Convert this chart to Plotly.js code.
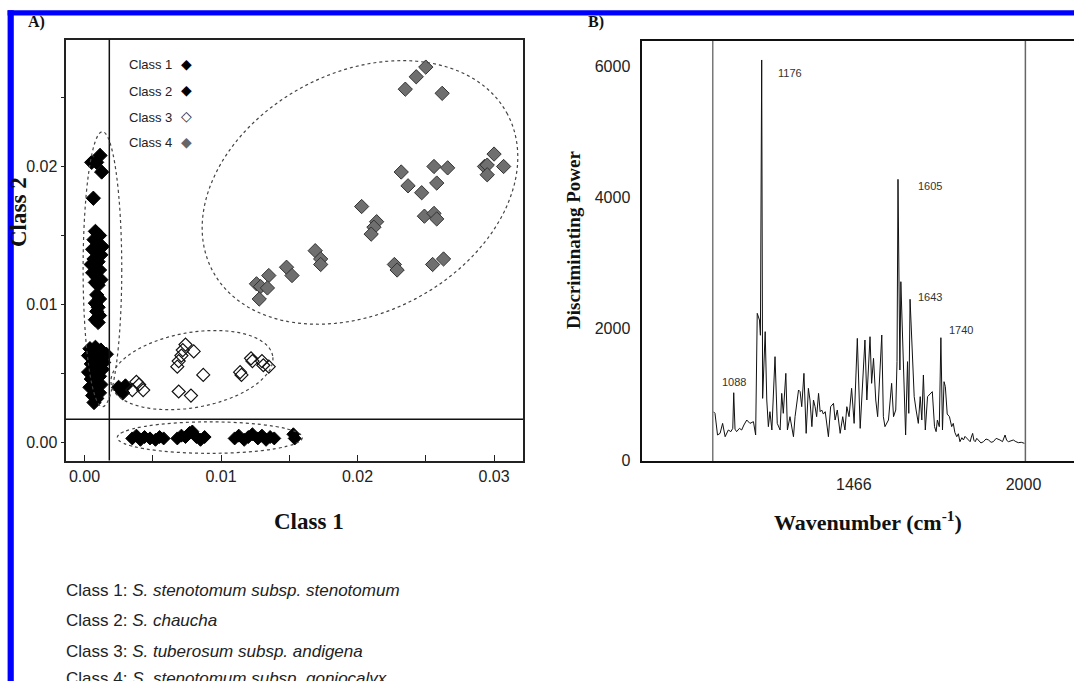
<!DOCTYPE html>
<html>
<head>
<meta charset="utf-8">
<script src="https://cdn.plot.ly/plotly-3.0.1.min.js"></script>
<style>html,body{margin:0;padding:0;background:#fff;}#chart{width:1074px;height:681px;}</style>
</head>
<body>
<div id="chart"></div>
<script>
// ---------- Panel A data (PLS-DA scores) ----------
const class1X = [0.0035,0.0038,0.0041,0.0044,0.0048,0.0052,0.0055,0.0058,
                 0.0068,0.0071,0.0074,0.0077,0.0079,0.0082,0.0085,0.0088,
                 0.0110,0.0113,0.0117,0.0120,0.0123,0.0127,0.0130,0.0133,0.0136,0.0139,
                 0.0153,0.0154];
const class1Y = [0.0003,0.0005,0.0002,0.0004,0.0003,0.0002,0.0004,0.0003,
                 0.0003,0.0005,0.0004,0.0007,0.0008,0.0004,0.0002,0.0004,
                 0.0003,0.0005,0.0002,0.0004,0.0006,0.0003,0.0005,0.0002,0.0004,0.0003,
                 0.0006,0.0003];

const class2X = [0.00053,0.00114,0.00126,0.00089,0.00065,
                 0.0008,0.0011,0.0007,0.0010,0.0013,0.0006,0.0009,0.0012,0.0007,0.0010,0.0005,0.0008,0.0011,0.0006,0.0009,0.0012,0.0008,0.0010,
                 0.0009,0.0011,0.0008,0.0010,0.0009,0.0011,0.0008,0.0010,
                 0.0004,0.0008,0.0012,0.0016,0.0003,0.0007,0.0011,0.0014,0.0005,0.0009,0.0013,0.0003,0.0007,0.0011,0.0005,0.0009,0.0012,0.0004,0.0008,0.0011,0.0006,0.0009,0.0007,
                 0.0025,0.0028,0.0030];
const class2Y = [0.0203,0.0208,0.0196,0.0203,0.0177,
                 0.0153,0.0150,0.0147,0.0144,0.0142,0.0140,0.0138,0.0136,0.0133,0.0131,0.0129,0.0127,0.0125,0.0123,0.0120,0.0118,0.0116,0.0114,
                 0.0107,0.0104,0.0101,0.0098,0.0095,0.0092,0.0089,0.0087,
                 0.0068,0.0069,0.0067,0.0064,0.0063,0.0062,0.0060,0.0058,0.0057,0.0055,0.0053,0.0051,0.0050,0.0048,0.0046,0.0044,0.0042,0.0040,0.0038,0.0036,0.0034,0.0032,0.0029,
                 0.0040,0.0036,0.0041];

const class3X = [0.0038,0.0040,0.0043,0.0035,
                 0.0074,0.0072,0.0071,0.0069,0.0068,0.0080,
                 0.0087,0.0069,0.0078,
                 0.0114,0.0115,0.0122,0.0123,0.0130,0.0131,0.0135];
const class3Y = [0.0044,0.0042,0.0038,0.0038,
                 0.0071,0.0067,0.0063,0.0059,0.0055,0.0066,
                 0.0049,0.0037,0.0034,
                 0.0051,0.0049,0.0061,0.0059,0.0059,0.0056,0.0055];

const class4X = [0.0250,0.0243,0.0235,0.0262,0.0232,0.0256,0.0266,0.0237,0.0247,0.0258,
                 0.0300,0.0293,0.0295,0.0295,0.0307,0.0203,0.0214,0.0212,0.0210,0.0249,
                 0.0256,0.0258,0.0169,0.0173,0.0173,0.0148,0.0152,0.0135,0.0126,0.0129,
                 0.0134,0.0128,0.0227,0.0229,0.0255,0.0263];
const class4Y = [0.0272,0.0265,0.0256,0.0253,0.0196,0.0200,0.0199,0.0186,0.0181,0.0188,
                 0.0209,0.0200,0.0201,0.0194,0.0200,0.0171,0.0160,0.0156,0.0151,0.0164,
                 0.0166,0.0162,0.0139,0.0133,0.0129,0.0127,0.0121,0.0121,0.0115,0.0113,
                 0.0112,0.0104,0.0129,0.0125,0.0129,0.0133];

const classNames = ["Class 1","Class 2","Class 3","Class 4"];
const xTickVals = [0, 0.01, 0.02, 0.03];
const xTickText = ["0.00","0.01","0.02","0.03"];
const yTickVals = [0, 0.01, 0.02];
const yTickText = ["0.00","0.01","0.02"];

// ---------- Panel B data (discriminating power spectrum) ----------
const specWN = [1024,1029,1037,1045,1053,1061,1071,1079,1085,1088,1092,1097,1106,1113,1120,1129,1139,1150,1157,1162,
  1169,1172,1176,1179,1187,1192,1197,1202,1208,1218,1225,1234,1239,1244,1252,1257,1265,1276,1281,1292,
  1297,1302,1309,1316,1323,1328,1334,1339,1344,1349,1355,1360,1365,1370,1376,1386,1393,1402,1407,1414,
  1423,1431,1438,1444,1451,1459,1467,1477,1486,1494,1501,1507,1512,1517,1522,1528,1535,1541,1554,1559,
  1564,1575,1585,1591,1598,1602,1605,1611,1614,1622,1629,1635,1639,1643,1650,1656,1662,1669,1675,1680,
  1685,1691,1698,1706,1713,1720,1725,1729,1735,1740,1745,1750,1754,1760,1767,1774,1779,1784,1790,1795,
  1800,1806,1811,1816,1821,1827,1832,1836,1840,1844,1848,1853,1858,1866,1874,1882,1890,1898,1905,1914,
  1926,1934,1942,1947,1953,1960,1968,1976,1984,1993,2003];
const specVal = [736,711,381,406,558,355,457,432,482,1025,470,432,482,457,533,609,558,584,381,2234,
  2132,1900,6093,939,1955,914,508,736,457,1574,558,457,1015,711,1320,457,660,355,660,1066,
  1041,812,1320,406,1092,914,508,914,812,660,1015,736,762,700,736,355,812,863,609,762,
  406,660,457,812,660,1092,558,1853,482,1117,1828,914,1371,1878,1168,1548,914,660,1904,660,
  508,609,1168,660,762,1500,4275,1371,2716,1371,381,1498,711,2448,1548,965,762,558,965,609,
  1295,457,965,1015,1041,508,432,609,508,1863,457,1193,1117,700,660,508,558,420,355,400,
  279,340,305,360,330,300,279,350,406,300,279,330,305,260,279,320,305,270,279,330,
  305,280,381,300,279,290,305,280,264,270,254];

const peakLabels = ["1088","1176","1605","1643","1740"];
const peakLabelX = [1089,1264,1705,1705,1803];
const peakLabelY = [1193,5890,4178,2478,1980];

const bTickVals = [1466, 2000];
const bTickText = ["1466","2000"];
const bYTickVals = [0, 2000, 4000, 6000];

const speciesLines = [
  "Class 1: <i>S. stenotomum subsp. stenotomum</i>",
  "Class 2: <i>S. chaucha</i>",
  "Class 3: <i>S. tuberosum subsp. andigena</i>",
  "Class 4: <i>S. stenotomum subsp. goniocalyx</i>"
];

// ---------- layout helpers ----------
const W = 1074, H = 681;
const px = v => v / W;
const py = v => 1 - v / H;
const SANS = "Liberation Sans, Arial, sans-serif";
const SERIF = "Liberation Serif, Times New Roman, serif";

// panel A axis geometry
const AX = {l: 65.5, r: 523, t: 39.5, b: 460.5, x0: -0.00139, x1: 0.03212, y0: -0.0013, y1: 0.0292};
const xScale = (AX.r - AX.l) / (AX.x1 - AX.x0);
const yScale = (AX.b - AX.t) / (AX.y1 - AX.y0);

// tilted dotted ellipse drawn as an SVG path (decoration, in pixel-consistent units)
function tiltedEllipse(cx, cy, aPx, bPx, deg) {
  const th = deg * Math.PI / 180;
  let d = "";
  for (let k = 0; k <= 120; k++) {
    const t = 2 * Math.PI * k / 120;
    const ex = aPx * Math.cos(t) * Math.cos(th) - bPx * Math.sin(t) * Math.sin(th);
    const ey = aPx * Math.cos(t) * Math.sin(th) + bPx * Math.sin(t) * Math.cos(th);
    d += (k === 0 ? "M" : "L") + (cx + ex / xScale) + "," + (cy + ey / yScale);
  }
  return d + "Z";
}

const traces = [
  {x: class1X, y: class1Y, type: "scatter", mode: "markers", name: classNames[0], xaxis: "x", yaxis: "y",
   marker: {symbol: "diamond", size: 10, color: "#000", line: {color: "#000", width: 1}}},
  {x: class2X, y: class2Y, type: "scatter", mode: "markers", name: classNames[1], xaxis: "x", yaxis: "y",
   marker: {symbol: "diamond", size: 11, color: "#000", line: {color: "#000", width: 1}}},
  {x: class3X, y: class3Y, type: "scatter", mode: "markers", name: classNames[2], xaxis: "x", yaxis: "y",
   marker: {symbol: "diamond-open", size: 10, color: "#111", line: {color: "#111", width: 1.2}}},
  {x: class4X, y: class4Y, type: "scatter", mode: "markers", name: classNames[3], xaxis: "x", yaxis: "y",
   marker: {symbol: "diamond", size: 11, color: "#6f6f6f", line: {color: "#333", width: 1}}},
  {x: specWN, y: specVal, type: "scatter", mode: "lines", name: "DP", xaxis: "x2", yaxis: "y2",
   line: {color: "#111", width: 1}}
];

const dotted = {color: "#444", width: 1.2, dash: "dot"};
const shapes = [
  // blue frame
  {type: "rect", xref: "paper", yref: "paper", x0: px(7.6), x1: px(1074), y0: py(15.5), y1: py(10.3), fillcolor: "#0000ff", line: {width: 0}},
  {type: "rect", xref: "paper", yref: "paper", x0: px(7.6), x1: px(13.8), y0: py(681), y1: py(10.3), fillcolor: "#0000ff", line: {width: 0}},
  // panel A reference lines
  {type: "line", xref: "x", yref: "y domain", x0: 0.00182, x1: 0.00182, y0: 0, y1: 1, line: {color: "#111", width: 1.5}},
  {type: "line", xref: "x domain", yref: "y", x0: 0, x1: 1, y0: 0.00168, y1: 0.00168, line: {color: "#111", width: 1.5}},
  // cluster ellipses
  {type: "circle", xref: "x", yref: "y", x0: -0.0001, x1: 0.00273, y0: 0.0026, y1: 0.02252, line: dotted},
  {type: "path", xref: "x", yref: "y", path: tiltedEllipse(0.00787, 0.00525, 82, 37.5, 10), line: dotted},
  {type: "circle", xref: "x", yref: "y", x0: 0.0024, x1: 0.01596, y0: -0.00078, y1: 0.0015, line: dotted},
  {type: "path", xref: "x", yref: "y", path: tiltedEllipse(0.02018, 0.01812, 167, 120, 28), line: dotted},
  // panel B gray guide lines
  {type: "line", xref: "x2", yref: "y2 domain", x0: 1022, x1: 1022, y0: 0, y1: 1, line: {color: "#777", width: 1.5}},
  {type: "line", xref: "x2", yref: "y2 domain", x0: 2006, x1: 2006, y0: 0, y1: 1, line: {color: "#666", width: 1.5}}
];

const annotations = [];
function ann(o) { annotations.push(Object.assign({showarrow: false, xref: "paper", yref: "paper", xanchor: "center", yanchor: "middle"}, o)); }

ann({text: "<b>A)</b>", x: px(26), y: py(22), xanchor: "left", font: {family: SERIF, size: 16, color: "#111"}});
ann({text: "<b>B)</b>", x: px(586), y: py(22), xanchor: "left", font: {family: SERIF, size: 16, color: "#111"}});
ann({text: "<b>Class 1</b>", x: px(309), y: py(521), font: {family: SERIF, size: 23, color: "#111"}});
ann({text: "<b>Class 2</b>", x: px(19), y: py(212), textangle: -90, font: {family: SERIF, size: 23, color: "#111"}});
ann({text: "<b>Wavenumber (cm<sup>-1</sup>)</b>", x: px(868), y: py(521), font: {family: SERIF, size: 22, color: "#111"}});
ann({text: "<b>Discriminating Power</b>", x: px(573), y: py(240), textangle: -90, font: {family: SERIF, size: 19, color: "#111"}});

// legend (text then symbol, as in the original)
const legSym = ["◆", "◆", "◇", "◆"];
const legCol = ["#000", "#000", "#222", "#666"];
const legY = [65, 91, 117, 143];
for (let i = 0; i < 4; i++) {
  ann({text: classNames[i], x: px(127), y: py(legY[i]), xanchor: "left", font: {family: SANS, size: 13, color: "#222"}});
  ann({text: legSym[i], x: px(186), y: py(legY[i] - 1), font: {family: "DejaVu Sans", size: 14, color: legCol[i]}});
}

// peak labels
for (let i = 0; i < peakLabels.length; i++) {
  annotations.push({text: peakLabels[i], x: peakLabelX[i], y: peakLabelY[i], xref: "x2", yref: "y2", showarrow: false,
    xanchor: "center", yanchor: "middle", font: {family: SANS, size: 11, color: "#333"}});
}

// species list (the last line is cut by the figure edge, as in the original)
const lineY = [590, 620, 651, 678];
speciesLines.forEach((t, i) => ann({text: t, x: px(64), y: py(lineY[i]), xanchor: "left", font: {family: SANS, size: 17, color: "#222"}}));

const layout = {
  width: W, height: H,
  margin: {l: 0, r: 0, t: 0, b: 0},
  paper_bgcolor: "#fff", plot_bgcolor: "#fff",
  showlegend: false,
  hovermode: false,
  xaxis: {domain: [px(AX.l), px(AX.r)], range: [AX.x0, AX.x1], anchor: "y",
    tickvals: xTickVals, ticktext: xTickText, ticks: "inside", ticklen: 6, tickcolor: "#222",
    minor: {tickvals: [0.005, 0.015, 0.025], ticks: "inside", ticklen: 6, tickcolor: "#222"},
    showline: true, mirror: true, linecolor: "#222", linewidth: 2, showgrid: false, zeroline: false,
    tickfont: {family: SANS, size: 16, color: "#222"}},
  yaxis: {domain: [py(AX.b), py(AX.t)], range: [AX.y0, AX.y1], anchor: "x",
    tickvals: yTickVals, ticktext: yTickText, ticks: "outside", ticklen: 3, tickcolor: "#222",
    minor: {tickvals: [0.005, 0.015, 0.025], ticks: "outside", ticklen: 3, tickcolor: "#222"},
    showline: true, mirror: true, linecolor: "#222", linewidth: 2, showgrid: false, zeroline: false,
    tickfont: {family: SANS, size: 16, color: "#222"}},
  xaxis2: {domain: [px(641.5), 1], range: [797.7, 2159], anchor: "y2",
    tickvals: bTickVals, ticktext: bTickText, ticks: "", ticklabelstandoff: 8,
    showline: true, mirror: true, linecolor: "#111", linewidth: 2, showgrid: false, zeroline: false,
    tickfont: {family: SANS, size: 16, color: "#222"}},
  yaxis2: {domain: [py(461), py(41)], range: [-15, 6382], anchor: "x2",
    tickvals: bYTickVals, ticks: "", ticklabelstandoff: 6,
    showline: true, mirror: false, linecolor: "#111", linewidth: 2, showgrid: false, zeroline: false,
    tickfont: {family: SANS, size: 16, color: "#222"}},
  shapes: shapes,
  annotations: annotations
};

Plotly.newPlot("chart", traces, layout, {staticPlot: true, displayModeBar: false});
</script>
</body>
</html>
